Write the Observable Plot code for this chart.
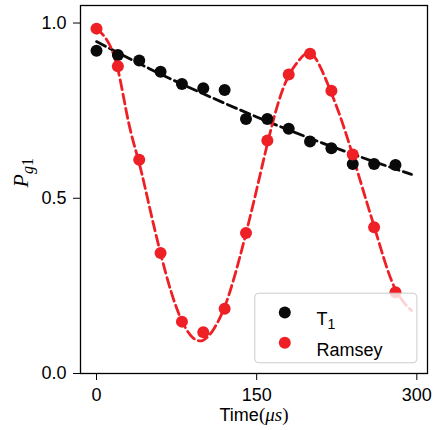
<!DOCTYPE html>
<html>
<head>
<meta charset="utf-8">
<script src="https://cdn.jsdelivr.net/npm/d3@7"></script>
<script src="https://cdn.jsdelivr.net/npm/@observablehq/plot@0.6"></script>
<style>
  html, body { margin: 0; padding: 0; background: #fff; }
</style>
</head>
<body>
<div id="chart"></div>
<script>
// Measured points
const times = [0, 20, 40, 60, 80, 100, 120, 140, 160, 180, 200, 220, 240, 260, 280];
const t1Values = [0.921, 0.909, 0.893, 0.861, 0.826, 0.814, 0.809, 0.726, 0.726, 0.698, 0.662, 0.643, 0.598, 0.598, 0.595];
const ramseyValues = [0.984, 0.877, 0.610, 0.344, 0.148, 0.118, 0.185, 0.401, 0.665, 0.853, 0.912, 0.807, 0.625, 0.417, 0.232];

// Fitted curves
const t1FitTimes = [0, 50, 100, 150, 200, 250, 295];
const t1FitValues = [0.947, 0.869, 0.798, 0.732, 0.671, 0.615, 0.568];
const ramseyFitTimes = [0, 10, 20, 30, 40, 50, 60, 70, 80, 90, 100, 110, 120, 130, 140, 150, 160, 170, 180, 190, 200, 210, 220, 230, 240, 250, 260, 270, 280, 290, 295];
const ramseyFitValues = [0.985, 0.950, 0.868, 0.717, 0.600, 0.470, 0.343, 0.232, 0.150, 0.103, 0.095, 0.128, 0.190, 0.285, 0.400, 0.525, 0.655, 0.770, 0.850, 0.895, 0.915, 0.872, 0.800, 0.718, 0.622, 0.520, 0.420, 0.320, 0.240, 0.195, 0.180];

const xTicks = [0, 150, 300];
const yTicks = [0, 0.5, 1.0];
const seriesNames = ["T1", "Ramsey"];
const seriesColors = ["#0a0a0a", "#ee1f25"];
const xLabel = "Time";
const yLabel = "P";

const t1Points = times.map((t, i) => ({t, v: t1Values[i]}));
const ramseyPoints = times.map((t, i) => ({t, v: ramseyValues[i]}));
const t1Fit = t1FitTimes.map((t, i) => ({t, v: t1FitValues[i]}));
const ramseyFit = ramseyFitTimes.map((t, i) => ({t, v: ramseyFitValues[i]}));

const dash = "10,4.5";

const svg = Plot.plot({
  width: 439,
  height: 430,
  marginLeft: 80,
  marginRight: 12,
  marginTop: 5,
  marginBottom: 57,
  style: {fontFamily: "'Liberation Sans', Arial, sans-serif", fontSize: "18px", color: "black", background: "white"},
  x: {domain: [-15, 310], ticks: xTicks, tickSize: 7, tickPadding: 8, label: null},
  y: {domain: [0, 1.05], ticks: yTicks, tickFormat: d3.format(".1f"), tickSize: 7, tickPadding: 7, label: null},
  marks: [
    Plot.line(t1Fit, {x: "t", y: "v", stroke: seriesColors[0], strokeWidth: 2.8, strokeDasharray: dash, curve: "natural"}),
    Plot.line(ramseyFit, {x: "t", y: "v", stroke: seriesColors[1], strokeWidth: 2.8, strokeDasharray: dash, curve: "natural"}),
    Plot.dot(t1Points, {x: "t", y: "v", r: 6, fill: seriesColors[0]}),
    Plot.dot(ramseyPoints, {x: "t", y: "v", r: 6, fill: seriesColors[1]}),
    // legend box
    Plot.frame({insetLeft: 174.3, insetRight: 10.6, insetTop: 287.7, insetBottom: 10.7, rx: 4, fill: "white", fillOpacity: 0.8, stroke: "#cccccc", strokeWidth: 1}),
    Plot.dot([seriesNames[0]], {frameAnchor: "top-left", dx: 204.3, dy: 307, r: 6, fill: seriesColors[0]}),
    Plot.dot([seriesNames[1]], {frameAnchor: "top-left", dx: 204.3, dy: 337.3, r: 6, fill: seriesColors[1]}),
    Plot.text([seriesNames[0]], {frameAnchor: "top-left", dx: 236, dy: 307, text: d => d, textAnchor: "start", fontSize: 18}),
    Plot.text([seriesNames[1]], {frameAnchor: "top-left", dx: 236, dy: 337.3, text: d => d, textAnchor: "start", fontSize: 18}),
    // axis labels
    Plot.text([xLabel], {frameAnchor: "bottom", dy: 47, text: d => d, fontSize: 18}),
    Plot.text([yLabel], {frameAnchor: "left", dx: -60, dy: -2, rotate: -90, text: d => d, fontSize: 22}),
    Plot.frame({stroke: "black", strokeWidth: 1.3})
  ]
});

const s = d3.select(svg);
const byText = (t) => s.selectAll("text").filter(function () { return this.textContent === t; });
const serif = "'Liberation Serif', 'Times New Roman', serif";

// T with subscript 1
const lt = byText("T1");
lt.text("T");
lt.append("tspan").attr("dy", 4).attr("font-size", 14).text("1");

// Time(μs)
const xl = byText(xLabel);
xl.append("tspan").attr("font-family", serif).attr("font-size", 19).text("(");
xl.append("tspan").attr("font-family", serif).attr("font-style", "italic").attr("font-size", 19).text("μs");
xl.append("tspan").attr("font-family", serif).attr("font-size", 19).text(")");

// P_{g1}
const yl = byText(yLabel);
yl.text("");
yl.append("tspan").attr("font-family", serif).attr("font-style", "italic").text("P");
yl.append("tspan").attr("font-family", serif).attr("font-style", "italic").attr("font-size", 16).attr("dy", 5).text("g");
yl.append("tspan").attr("font-family", serif).attr("font-size", 16).text("1");

document.getElementById("chart").appendChild(svg);
</script>
</body>
</html>
